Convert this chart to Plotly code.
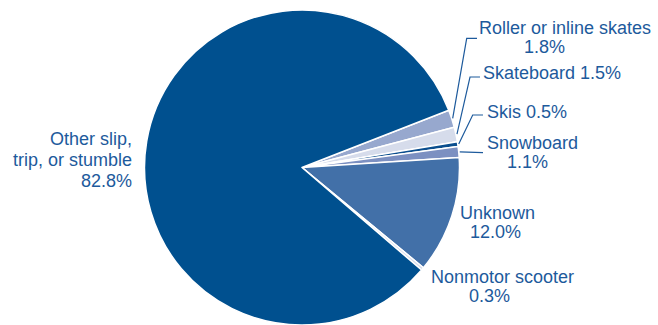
import math
import plotly.graph_objects as go

# Injury causes, in clockwise order from the top of the "Roller" slice
categories = ["Roller or inline skates", "Skateboard", "Skis", "Snowboard",
              "Unknown", "Nonmotor scooter", "Other slip, trip, or stumble"]
values = [1.8, 1.5, 0.5, 1.1, 12.0, 0.3, 82.8]
value_labels = ["1.8%", "1.5%", "0.5%", "1.1%", "12.0%", "0.3%", "82.8%"]
colors = ["#97A8CE", "#D6DCEB", "#0B4E8E", "#7C90C1",
          "#4270A8", "#D6DCEB", "#00508F"]

W, H = 658, 325
CX, CY, R = 302.0, 167.5, 157.5          # pie centre / radius in pixels
ROTATION = 68.7                           # degrees clockwise from 12 o'clock
TEXT = "#1D5A9C"
FONT = "Liberation Sans, Arial, sans-serif"


def px(x):
    return x / W


def py(y):
    return 1 - y / H


fig = go.Figure(go.Pie(
    labels=categories,
    values=values,
    sort=False,
    direction="clockwise",
    rotation=ROTATION,
    marker=dict(colors=colors, line=dict(color="white", width=1.5)),
    textinfo="none",
    hoverinfo="label+percent",
    showlegend=False,
    domain=dict(x=[px(CX - R), px(CX + R)], y=[py(CY + R), py(CY - R)]),
))

# mid-angle of every slice (degrees, counter-clockwise from 3 o'clock)
total = sum(values)
mid_angle = {}
start = 90 - ROTATION
for name, v in zip(categories, values):
    span = v / total * 360
    mid_angle[name] = start - span / 2
    start -= span


def edge_point(name):
    a = math.radians(mid_angle[name])
    return CX + (R + 1) * math.cos(a), CY - (R + 1) * math.sin(a)


# leader lines: slice edge -> elbow -> label
leaders = {
    "Roller or inline skates": [(466.7, 38.3), (477.0, 38.3)],
    "Skateboard": [(470.0, 77.0), (480.0, 77.0)],
    "Skis": [(472.7, 115.0), (483.0, 115.0)],
    "Snowboard": [(483.0, 152.7)],
}
for name, pts in leaders.items():
    path_pts = [edge_point(name)] + pts
    path = "M " + " L ".join(f"{px(x):.5f},{py(y):.5f}" for x, y in path_pts)
    fig.add_shape(type="path", path=path, xref="paper", yref="paper",
                  line=dict(color=TEXT, width=1.2))

# label text lines: (text, x, y-centre, anchor)
label_lines = [
    ("Roller or inline skates", 478, 28, "left"),
    (value_labels[0], 523, 46.5, "left"),
    (f"Skateboard {value_labels[1]}", 482, 73, "left"),
    (f"Skis {value_labels[2]}", 486, 112, "left"),
    ("Snowboard", 486, 142.5, "left"),
    (value_labels[3], 506, 161.5, "left"),
    ("Unknown", 459, 212.5, "left"),
    (value_labels[4], 469, 231.5, "left"),
    ("Nonmotor scooter", 429.5, 277, "left"),
    (value_labels[5], 468, 296, "left"),
    ("Other slip,", 133, 139, "right"),
    ("trip, or stumble", 133, 160, "right"),
    (value_labels[6], 133, 181, "right"),
]
for text, x, y, anchor in label_lines:
    fig.add_annotation(text=text, x=px(x), y=py(y), xref="paper", yref="paper",
                       xanchor=anchor, yanchor="middle", showarrow=False,
                       borderpad=0,
                       font=dict(family=FONT, size=18, color=TEXT))

fig.update_layout(
    width=W, height=H,
    margin=dict(l=0, r=0, t=0, b=0),
    paper_bgcolor="white",
    plot_bgcolor="white",
)

fig.write_html("out.html")
